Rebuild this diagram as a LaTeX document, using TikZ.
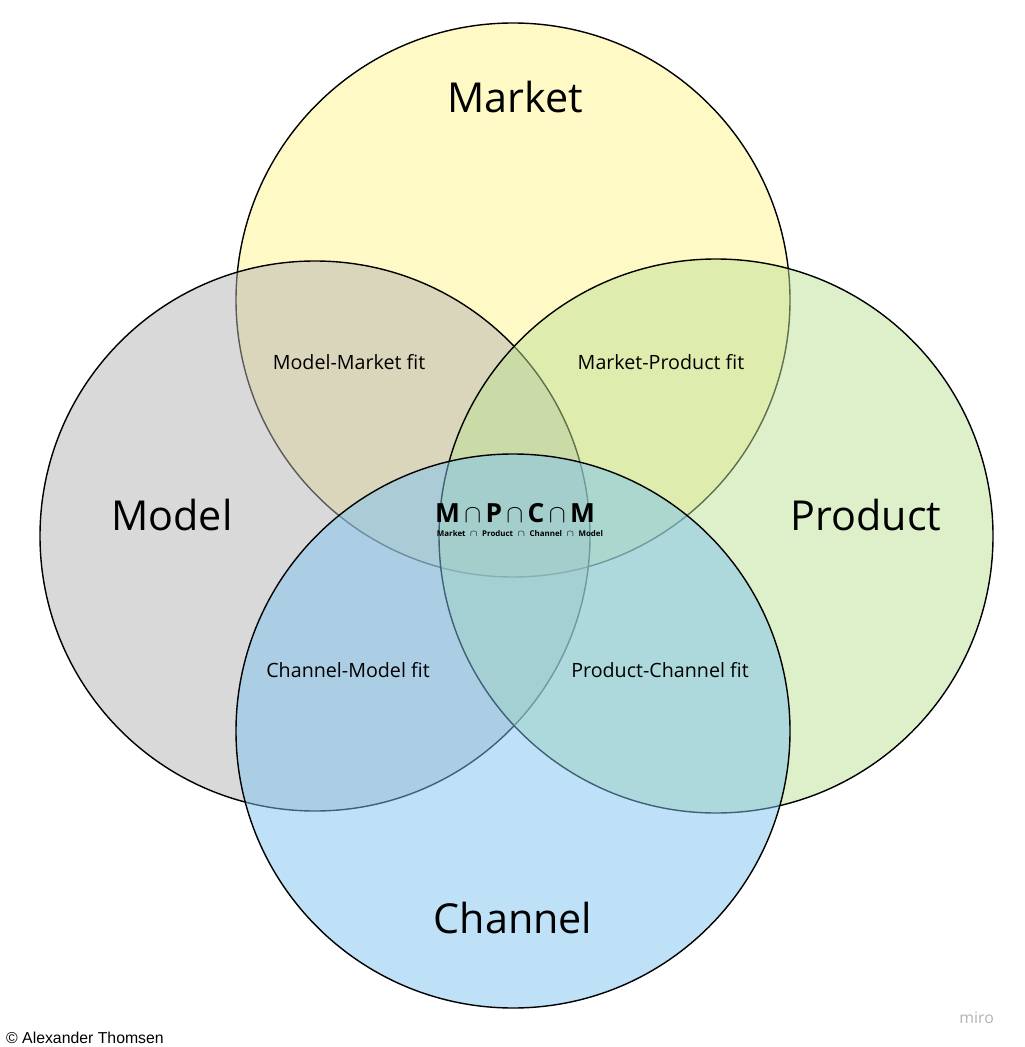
\documentclass[tikz,border=0pt]{standalone}
\usepackage{fontspec}
\setmainfont{Open Sans}
\newfontfamily\arialfont{Liberation Sans}
\definecolor{marketcol}{RGB}{255,245,140}
\definecolor{modelcol}{RGB}{180,180,180}
\definecolor{productcol}{RGB}{190,225,150}
\definecolor{channelcol}{RGB}{125,195,240}
\tikzset{
  set/.style={draw=black, line width=0.8pt, fill opacity=0.5},
  title/.style={font=\fontsize{23.5}{26}\selectfont},
  fit/.style={font=\fontsize{11.2}{13}\selectfont}
}
\begin{document}
\begin{tikzpicture}[x=0.02cm,y=-0.02cm]
\useasboundingbox (0,0) rectangle (1024,1047);
% sets
\draw[set,fill=marketcol](513,300)circle (277);
\draw[set,fill=modelcol](315,536)circle (275);
\draw[set,fill=productcol](716,536)circle (277);
\draw[set,fill=channelcol](513,731)circle (277);
% titles
\node[title] (market) at (515,97) {Market};
\node[title] (model) at (172,515) {Model};
\node[title] (product) at (866,515) {Product};
\node[title] (channel) at (513,918) {Channel};
% pairwise fits
\node[fit] (mmfit) at (349,362) {Model-Market fit};
\node[fit] (mpfit) at (661,362) {Market-Product fit};
\node[fit] (cmfit) at (348,670) {Channel-Model fit};
\node[fit] (pcfit) at (660,670) {Product-Channel fit};
% centre
\node[font=\fontsize{15}{16}\selectfont\bfseries] (core) at (515,513) {M\,$\cap$\,P\,$\cap$\,C\,$\cap$\,M};
\node[font=\fontsize{4.5}{5}\selectfont\bfseries] (corelbl) at (520,534) {Market \ $\cap$ \ Product \ $\cap$ \ Channel \ $\cap$ \ Model};
% credits
\node[anchor=west,font=\arialfont\fontsize{9}{10}\selectfont] (author) at (0,1038) {\textcopyright\ Alexander Thomsen};
\node[anchor=east,text=black!30,font=\fontsize{9}{10}\selectfont] (miro) at (1000,1018) {miro};
\end{tikzpicture}
\end{document}
